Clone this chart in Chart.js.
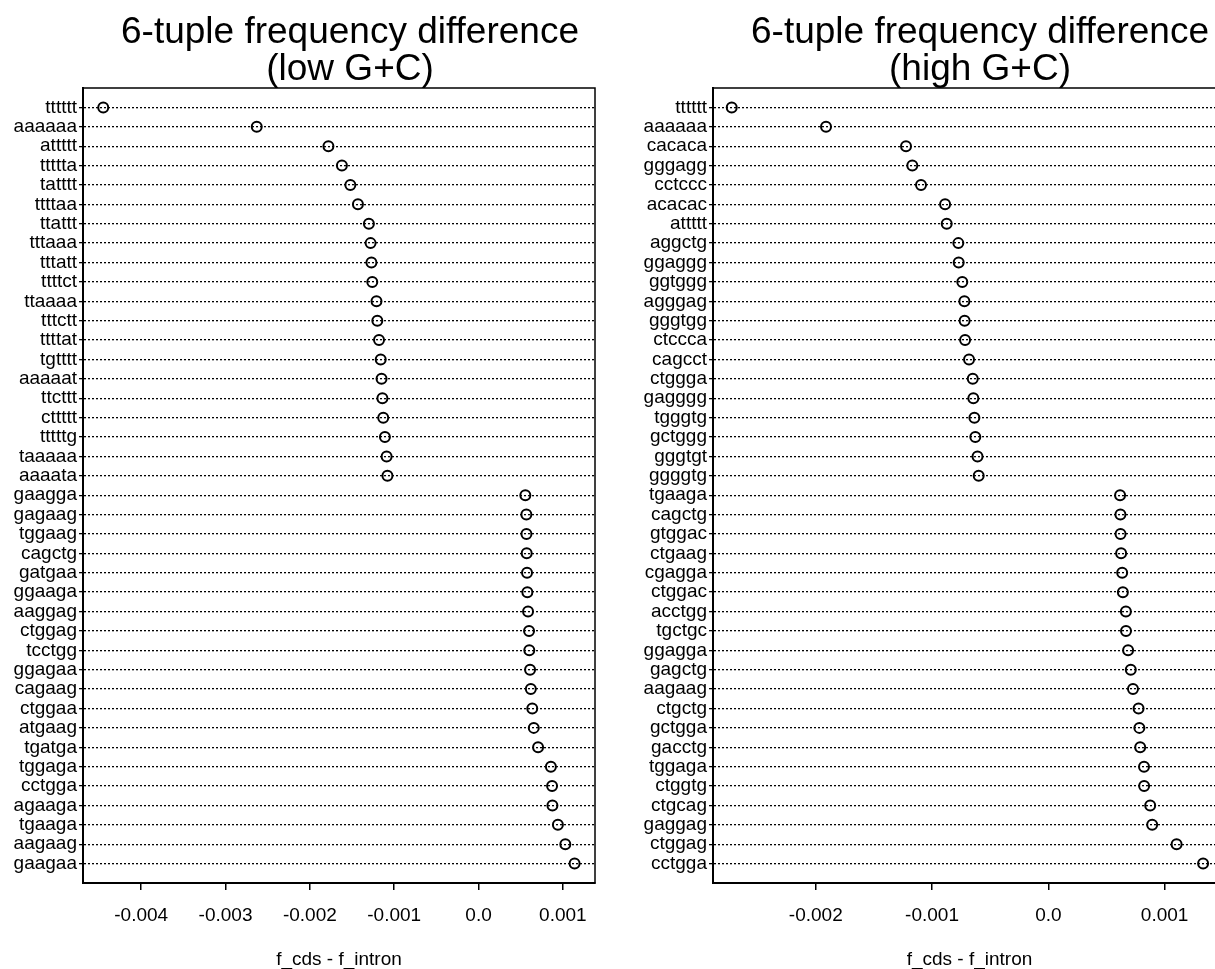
<!DOCTYPE html>
<html>
<head>
<meta charset="utf-8">
<script src="https://cdn.jsdelivr.net/npm/chart.js@4/dist/chart.umd.min.js"></script>
<style>
  body { margin: 0; background: #fff; overflow: hidden; width: 1215px; height: 969px; position: relative; }
  canvas { position: absolute; top: 0; }
</style>
</head>
<body>
<canvas id="lowChart" width="700" height="969" style="left:0px"></canvas>
<canvas id="highChart" width="720" height="969" style="left:620px"></canvas>
<script>
// 6-tuples, low G+C panel (top to bottom)
const lowLabels = ['tttttt','aaaaaa','attttt','ttttta','tatttt','ttttaa','ttattt','tttaaa','tttatt','ttttct',
  'ttaaaa','tttctt','ttttat','tgtttt','aaaaat','ttcttt','cttttt','tttttg','taaaaa','aaaata',
  'gaagga','gagaag','tggaag','cagctg','gatgaa','ggaaga','aaggag','ctggag','tcctgg','ggagaa',
  'cagaag','ctggaa','atgaag','tgatga','tggaga','cctgga','agaaga','tgaaga','aagaag','gaagaa'];
const lowValues = [-0.00445, -0.00263, -0.00178, -0.00162, -0.00152, -0.00143, -0.00130, -0.00128, -0.00127, -0.00126,
  -0.00121, -0.00120, -0.00118, -0.00116, -0.00115, -0.00114, -0.00113, -0.00111, -0.00109, -0.00108,
  0.000555, 0.000567, 0.000568, 0.000571, 0.000575, 0.000579, 0.000587, 0.000599, 0.000602, 0.000611,
  0.000620, 0.000637, 0.000655, 0.000706, 0.000858, 0.000872, 0.000876, 0.000941, 0.001029, 0.001139];
const lowTicks = [-0.004, -0.003, -0.002, -0.001, 0, 0.001];

// 6-tuples, high G+C panel
const highLabels = ['tttttt','aaaaaa','cacaca','gggagg','cctccc','acacac','attttt','aggctg','ggaggg','ggtggg',
  'agggag','gggtgg','ctccca','cagcct','ctggga','gagggg','tgggtg','gctggg','gggtgt','ggggtg',
  'tgaaga','cagctg','gtggac','ctgaag','cgagga','ctggac','acctgg','tgctgc','ggagga','gagctg',
  'aagaag','ctgctg','gctgga','gacctg','tggaga','ctggtg','ctgcag','gaggag','ctggag','cctgga'];
const highValues = [-0.002723, -0.001912, -0.001224, -0.00117, -0.001095, -0.000888, -0.000874, -0.000774, -0.000771, -0.00074,
  -0.000722, -0.00072, -0.000716, -0.000682, -0.00065, -0.000645, -0.000636, -0.000628, -0.000609, -0.000599,
  0.000617, 0.00062, 0.000621, 0.000626, 0.000635, 0.000641, 0.000667, 0.000668, 0.000686, 0.000709,
  0.000728, 0.000776, 0.000783, 0.00079, 0.000823, 0.000824, 0.000876, 0.000893, 0.001103, 0.001331];
const highTicks = [-0.002, -0.001, 0, 0.001];

const FONT = '"Liberation Sans", Arial, Helvetica, sans-serif';

// cadre complet autour de la zone de tracé
const framePlugin = {
  id: 'frame',
  afterDraw(chart) {
    const a = chart.chartArea;
    const ctx = chart.ctx;
    ctx.save();
    ctx.strokeStyle = '#000';
    ctx.lineWidth = 1.5;
    ctx.strokeRect(a.left, a.top, a.right - a.left, a.bottom - a.top);
    ctx.restore();
  }
};

function makeDotChart(id, titleLine2, labels, values, ticks, xMin, xMax, leftW, rightW) {
  const points = values.map((v, i) => ({ x: v, y: i }));
  return new Chart(document.getElementById(id), {
    type: 'scatter',
    data: {
      datasets: [{
        data: points,
        yAxisID: 'y',
        xAxisID: 'x',
        pointStyle: 'circle',
        pointRadius: 5,
        pointBorderWidth: 2,
        pointBorderColor: '#000',
        pointBackgroundColor: 'rgba(0,0,0,0)'
      }]
    },
    options: {
      responsive: false,
      animation: false,
      events: [],
      layout: { padding: 0 },
      plugins: {
        legend: { display: false },
        tooltip: { enabled: false },
        title: {
          display: true,
          text: ['6-tuple frequency difference', titleLine2],
          color: '#000',
          font: { family: FONT, size: 37, weight: 'normal', lineHeight: 1 },
          padding: { top: 14, bottom: 0 }
        }
      },
      scales: {
        x: {
          type: 'linear',
          min: xMin,
          max: xMax,
          afterBuildTicks: s => { s.ticks = ticks.map(v => ({ value: v })); },
          afterFit: s => { s.height = 86; },
          grid: { drawOnChartArea: false, drawTicks: true, tickLength: 7, color: '#000', lineWidth: 1.5 },
          border: { display: true, color: '#000', width: 2 },
          ticks: {
            color: '#000',
            padding: 14,
            font: { family: FONT, size: 19 },
            callback: v => (v === 0 ? '0.0' : v.toFixed(3))
          },
          title: {
            display: true,
            text: 'f_cds - f_intron',
            color: '#000',
            font: { family: FONT, size: 19, lineHeight: 1 },
            padding: { top: 0, bottom: 0 }
          }
        },
        y: {
          type: 'linear',
          reverse: true,
          min: -1,
          max: labels.length,
          afterBuildTicks: s => { s.ticks = labels.map((_, i) => ({ value: i })); },
          afterFit: s => { s.width = leftW; },
          grid: { color: '#000', lineWidth: 1.3, tickLength: 4 },
          border: { display: true, color: '#000', width: 2, dash: [2, 2] },
          ticks: {
            autoSkip: false,
            color: '#000',
            padding: 2,
            font: { family: FONT, size: 19 },
            callback: v => labels[v]
          }
        },
        pad: {
          axis: 'y',
          type: 'linear',
          position: 'right',
          afterFit: s => { s.width = rightW; },
          grid: { display: false },
          border: { display: false },
          ticks: { display: false }
        }
      }
    },
    plugins: [framePlugin]
  });
}

makeDotChart('lowChart', '(low G+C)', lowLabels, lowValues, lowTicks, -0.00469, 0.001381, 83, 105);
makeDotChart('highChart', '(high G+C)', highLabels, highValues, highTicks, -0.002884, 0.001528, 93, 114);
</script>
</body>
</html>
